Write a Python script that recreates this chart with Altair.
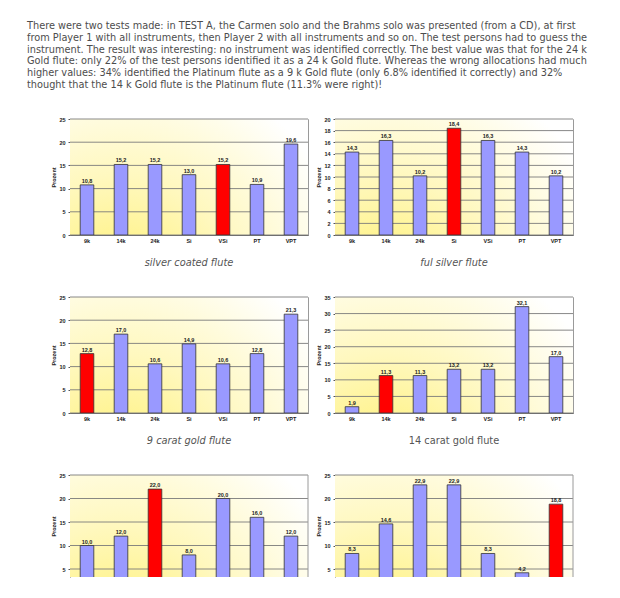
import altair as alt
import pandas as pd

para = [
    "There were two tests made: in TEST A, the Carmen solo and the Brahms solo was presented (from a CD), at first",
    "from Player 1 with all instruments, then Player 2 with all instruments and so on. The test persons had to guess the",
    "instrument. The result was interesting: no instrument was identified correctly. The best value was that for the 24 k",
    "Gold flute: only 22% of the test persons identified it as a 24 k Gold flute. Whereas the wrong allocations had much",
    "higher values: 34% identified the Platinum flute as a 9 k Gold flute (only 6.8% identified it correctly) and 32%",
    "thought that the 14 k Gold flute is the Platinum flute (11.3% were right)!",
]
categories = ["9k", "14k", "24k", "Si", "VSi", "PT", "VPT"]
titles = ["silver coated flute", "ful silver flute", "9 carat gold flute", "14 carat gold flute", "", ""]
title_italic = [True, True, True, False, True, True]
values = [
    [10.8, 15.2, 15.2, 13.0, 15.2, 10.9, 19.6],
    [14.3, 16.3, 10.2, 18.4, 16.3, 14.3, 10.2],
    [12.8, 17.0, 10.6, 14.9, 10.6, 12.8, 21.3],
    [1.9, 11.3, 11.3, 13.2, 13.2, 32.1, 17.0],
    [10.0, 12.0, 22.0, 8.0, 20.0, 16.0, 12.0],
    [8.3, 14.6, 22.9, 22.9, 8.3, 4.2, 18.8],
]
correct = ["VSi", "Si", "9k", "14k", "24k", "VPT"]
y_max = [25, 20, 25, 35, 25, 25]
y_step = [5, 2, 5, 5, 5, 5]

grad = {
    "gradient": "radial",
    "x1": 0.2, "y1": 1.0, "r1": 0,
    "x2": 0.2, "y2": 1.0, "r2": 1.0,
    "stops": [
        {"offset": 0, "color": "#FFF06A"},
        {"offset": 0.5, "color": "#FFF8BE"},
        {"offset": 1, "color": "#FFFFFF"},
    ],
}


def panel(i, w=238, h=116, last=False):
    df = pd.DataFrame({
        "cat": categories,
        "val": values[i],
        "lab": [f"{v:.1f}".replace(".", ",") for v in values[i]],
        "hit": [c == correct[i] for c in categories],
    })
    lo = 3.3 if last else 0
    ticks = list(range(5 if last else 0, y_max[i] + 1, y_step[i]))
    xscale = alt.Scale(paddingInner=0.6, paddingOuter=0.3)
    xenc = alt.X(
        "cat:N", sort=categories, scale=xscale,
        axis=None if last else alt.Axis(
            title=None, labelAngle=0, ticks=False, labelPadding=3,
            labelFont="Liberation Sans", labelFontSize=5.5, labelFontWeight="bold",
            labelColor="#222", domainColor="#666", grid=False, labelOverlap=False),
    )
    yscale = alt.Scale(domain=[lo, y_max[i]], nice=False, zero=False)
    yenc = alt.Y(
        "val:Q",
        scale=yscale,
        axis=alt.Axis(
            title="Prozent", values=ticks, tickSize=2, tickColor="#555",
            labelPadding=3, labelFont="Liberation Sans", labelFontSize=5.5,
            labelFontWeight="bold", labelColor="#222", labelOverlap=False,
            titleFont="Liberation Sans", titleFontSize=5.5, titleFontWeight="bold",
            titleColor="#222", titlePadding=2, domainColor="#777", grid=False),
    )
    base = alt.Chart(df)
    bg = alt.Chart(pd.DataFrame({"k": [0]})).mark_rect(fill=grad).encode(
        x=alt.value(0), x2=alt.value("width"), y=alt.value(0), y2=alt.value("height"))
    gridlines = alt.Chart(pd.DataFrame({"v": ticks})).mark_rule(
        color="#7a7a7a", strokeWidth=0.9).encode(y=alt.Y("v:Q", scale=yscale, axis=None))
    bars = base.mark_bar(stroke="#333", strokeWidth=0.8, clip=True).encode(
        x=xenc, y=yenc, y2=alt.datum(0),
        color=alt.Color("hit:N", scale=alt.Scale(domain=[False, True], range=["#9999FF", "#FF0000"]), legend=None),
    )
    labels = base.mark_text(dy=-4, fontSize=5.5, fontWeight="bold", font="Liberation Sans", color="#222").encode(
        x=alt.X("cat:N", sort=categories, scale=xscale, axis=None),
        y=alt.Y("val:Q", scale=yscale, axis=None),
        text="lab:N")
    layers = [bg, gridlines, bars, labels]
    if last:
        border = alt.Chart(pd.DataFrame({"k": [0]})).mark_rule(color="#9a9a9a", strokeWidth=1).encode(
            x=alt.value(w), y=alt.value(0), y2=alt.value(h))
        layers.append(border)
    ch = alt.layer(*layers).resolve_axis(x="independent", y="independent").properties(width=w, height=h)
    if last:
        ch = ch.properties(view=alt.ViewBackground(strokeWidth=0))
    else:
        ch = ch.properties(
            view=alt.ViewBackground(stroke="#9a9a9a", strokeWidth=1),
            title=alt.TitleParams(
                titles[i], orient="bottom", offset=14, font="DejaVu Sans", fontSize=9.8,
                fontStyle="italic" if title_italic[i] else "normal", fontWeight="normal",
                color="#555", anchor="middle"),
        )
    return ch


tdf = pd.DataFrame({"i": list(range(len(para))), "t": para})
text = alt.Chart(tdf).mark_text(
    align="left", baseline="middle", font="DejaVu Sans", fontSize=9.75, color="#4d4d4d"
).encode(
    x=alt.value(-43),
    y=alt.Y("i:O", axis=None, scale=alt.Scale(padding=0.5)),
    text="t:N",
).properties(width=500, height=70.8, view=alt.ViewBackground(strokeWidth=0))

grid = alt.concat(
    panel(0), panel(1), panel(2), panel(3),
    panel(4, h=102, last=True), panel(5, h=102, last=True),
    columns=2, spacing={"row": 62, "column": 27}, bounds="flush",
)
chart = alt.vconcat(text, grid, spacing=28, bounds="flush").properties(
    padding={"left": 19, "top": 12, "right": 0, "bottom": 0}
).configure(background="white")

chart.save("out.html", embed_options={"renderer": "svg", "actions": False})
